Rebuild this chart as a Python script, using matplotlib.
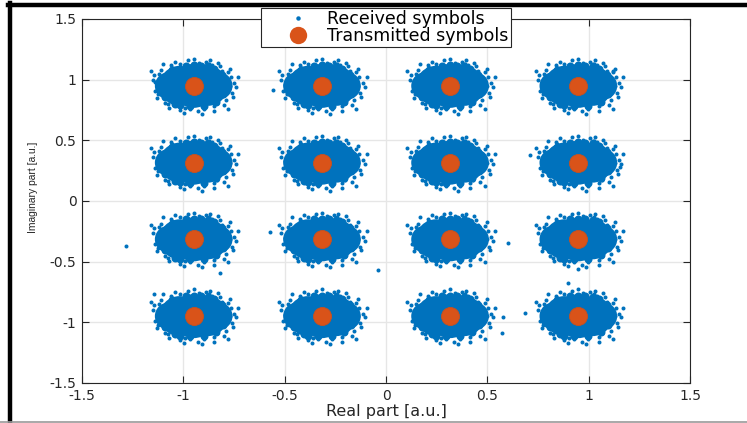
import matplotlib
matplotlib.use("Agg")
import matplotlib.pyplot as plt
from matplotlib.lines import Line2D
from matplotlib.ticker import FixedLocator

# ---- data ----
levels = [-0.949, -0.316, 0.316, 0.949]          # 16-QAM levels (I and Q)
tx_i = [i for q in levels for i in levels]
tx_q = [q for q in levels for i in levels]

# received-symbol deviations around each transmitted symbol
core_dx = [0.0, -0.07, 0.07, -0.125, 0.125]
core_dy = [0.0, 0.0, 0.0, 0.0, 0.0]
rim_dx = [0.155, 0.14, 0.10, 0.035, -0.04, -0.105, -0.145, -0.158, -0.14, -0.09, -0.02, 0.05, 0.11, 0.145,
          0.07, -0.07, 0.0]
rim_dy = [0.00, 0.09, 0.14, 0.165, 0.165, 0.13, 0.07, -0.01, -0.09, -0.15, -0.165, -0.165, -0.13, -0.07,
          0.16, -0.16, 0.17]
edge_dx = [0.20, 0.19, 0.17, 0.16, 0.13, 0.10, 0.06, 0.02, -0.03, -0.07, -0.11, -0.14, -0.17, -0.19,
           -0.20, -0.16, 0.21, 0.18, -0.05, 0.08, 0.15, -0.12, -0.18, 0.12, -0.09, 0.04, 0.22, -0.21,
           0.17, -0.15, 0.00, 0.10, -0.02, 0.18, -0.18, 0.14, -0.13, 0.09, -0.07, 0.05,
           0.185, -0.175, 0.115, -0.105, 0.025, -0.045, 0.195, -0.195, 0.075, -0.125]
edge_dy = [0.02, -0.06, 0.11, -0.12, 0.16, -0.17, 0.20, -0.21, 0.21, -0.20, 0.17, -0.14, 0.10, -0.04,
           0.05, 0.13, -0.01, 0.14, -0.22, 0.21, -0.16, -0.18, -0.10, 0.19, 0.20, -0.23, 0.07, 0.12,
           -0.19, 0.18, 0.22, -0.21, -0.19, 0.00, 0.01, 0.12, -0.10, 0.17, 0.18, -0.19,
           0.07, -0.07, -0.14, 0.15, 0.19, -0.18, -0.09, 0.09, 0.18, -0.15]
outlier_i = [-1.283, -0.040, 0.602, 0.686, 0.577, 0.572, 0.898, 0.947, -0.819, -0.573, -1.145,
             -1.140, 0.138, 1.120, 1.154, 0.710, -0.558]
outlier_q = [-0.371, -0.569, -0.347, -0.924, -0.957, -1.090, -0.676, -0.560, -0.594, -0.256, -0.767,
             0.980, 0.980, 1.070, 0.280, 0.380, 0.915]

ticks = [-1.5, -1, -0.5, 0, 0.5, 1, 1.5]
tick_labels = ["-1.5", "-1", "-0.5", "0", "0.5", "1", "1.5"]
legend_labels = ["Received symbols", "Transmitted symbols"]
xlabel = "Real part [a.u.]"
ylabel = "Imaginary part [a.u.]"

# ---- style ----
BLUE = "#0072BD"
ORANGE = "#D95319"
DARK = "#262626"

fig = plt.figure(figsize=(7.47, 4.23), dpi=100)
fig.patch.set_facecolor("white")
ax = fig.add_axes([0.1098, 0.0946, 0.8139, 0.8605])

def px_s(d):
    return (d * 0.72) ** 2

core_sizes = [px_s(44), px_s(40), px_s(40), px_s(27), px_s(27)]
for ci, cq in zip(tx_i, tx_q):
    ax.scatter([ci + d for d in core_dx], [cq + d for d in core_dy],
               s=core_sizes, c=BLUE, linewidths=0, zorder=2)
    ax.scatter([ci + d for d in rim_dx], [cq + d for d in rim_dy],
               s=px_s(8), c=BLUE, linewidths=0, zorder=2)
    ax.scatter([ci + d for d in edge_dx], [cq + d for d in edge_dy],
               s=px_s(4), c=BLUE, linewidths=0, zorder=2)
ax.scatter(outlier_i, outlier_q, s=px_s(4), c=BLUE, linewidths=0, zorder=2)

ax.scatter(tx_i, tx_q, s=px_s(18), c=ORANGE, edgecolors="#C8501E", linewidths=0.6, zorder=3)

ax.set_xlim(-1.5, 1.5)
ax.set_ylim(-1.5, 1.5)
ax.xaxis.set_major_locator(FixedLocator(ticks))
ax.yaxis.set_major_locator(FixedLocator(ticks))
ax.set_xticklabels(tick_labels)
ax.set_yticklabels(tick_labels)
ax.grid(True, color="#E6E6E6", linewidth=1.0, zorder=0)
ax.set_axisbelow(True)
ax.tick_params(direction="in", length=5, width=0.8, color=DARK, top=True, right=True,
               labelsize=10, labelcolor=DARK, pad=4)
for lab in ax.get_xticklabels() + ax.get_yticklabels():
    lab.set_family(["DejaVu Sans"])
for sp in ax.spines.values():
    sp.set_color(DARK)
    sp.set_linewidth(0.8)

ax.set_xlabel(xlabel, fontsize=11.5, color=DARK, family=["DejaVu Sans"], labelpad=1)
ax.set_ylabel(ylabel, fontsize=7.4, color=DARK, family=["Liberation Sans Narrow", "Liberation Sans"])
ax.yaxis.set_label_coords(-0.0724, 0.538)

handles = [Line2D([], [], linestyle="none", marker="o", markersize=3.2, color=BLUE, markeredgewidth=0),
           Line2D([], [], linestyle="none", marker="o", markersize=12.5, color=ORANGE, markeredgewidth=0)]
leg = ax.legend(handles, legend_labels, loc="upper center", bbox_to_anchor=(0.5, 1.03),
                frameon=True, fancybox=False, framealpha=1, edgecolor=DARK,
                prop={"family": "DejaVu Sans", "size": 12.5}, handletextpad=-0.3,
                borderpad=0.1, labelspacing=-0.05, handlelength=4.0, borderaxespad=0)
leg.get_frame().set_linewidth(0.8)
leg.set_zorder(5)

# outer frame of the figure
fig.add_artist(Line2D([8 / 747, 1.0], [1 - 5 / 423, 1 - 5 / 423], transform=fig.transFigure,
                      color="black", linewidth=3.2))
fig.add_artist(Line2D([10 / 747, 10 / 747], [0, 1 - 3 / 423], transform=fig.transFigure,
                      color="black", linewidth=3.2))
fig.add_artist(Line2D([0, 1], [1.5 / 423, 1.5 / 423], transform=fig.transFigure,
                      color="#9A9A9A", linewidth=1.2))

fig.savefig("out.png", dpi=100)
